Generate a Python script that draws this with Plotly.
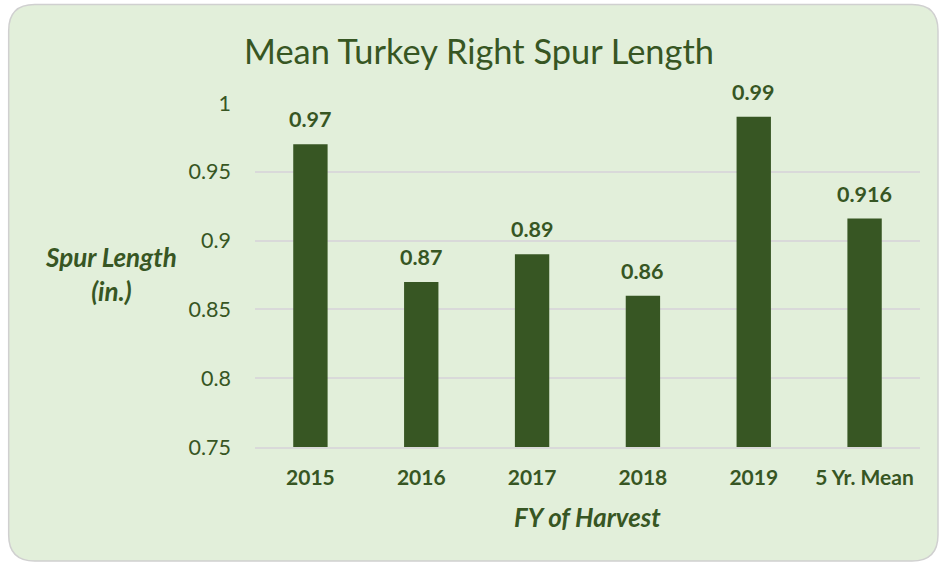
import plotly.graph_objects as go

categories = ["2015", "2016", "2017", "2018", "2019", "5 Yr. Mean"]
values = [0.97, 0.87, 0.89, 0.86, 0.99, 0.916]
y_ticks = [0.75, 0.8, 0.85, 0.9, 0.95, 1.0]
y_tick_labels = ["0.75", "0.8", "0.85", "0.9", "0.95", "1"]

W, H = 939, 563
L, R, T, B = 254.5, 920, 103.3, 447
GREEN = "#375623"
TXT = "#375623"
FONT = "Lato"

def px(x):
    return (x - L) / (R - L)

def py(y):
    return (B - y) / (B - T)

# rounded rectangle background in paper coords
x0, x1, y0, y1, r = 8, 938, 5, 561, 26
path = (
    f"M {px(x0 + r)} {py(y0)} L {px(x1 - r)} {py(y0)} "
    f"Q {px(x1)} {py(y0)} {px(x1)} {py(y0 + r)} "
    f"L {px(x1)} {py(y1 - r)} Q {px(x1)} {py(y1)} {px(x1 - r)} {py(y1)} "
    f"L {px(x0 + r)} {py(y1)} Q {px(x0)} {py(y1)} {px(x0)} {py(y1 - r)} "
    f"L {px(x0)} {py(y0 + r)} Q {px(x0)} {py(y0)} {px(x0 + r)} {py(y0)} Z"
)

fig = go.Figure()
fig.add_trace(go.Bar(
    x=categories, y=values,
    marker=dict(color=GREEN, line=dict(width=0)),
    hoverinfo="x+y",
))

annotations = []
for i, v in enumerate(values):
    annotations.append(dict(
        x=i, y=v, xref="x", yref="y", text=f"<b>{v}</b>", showarrow=False,
        yanchor="bottom", yshift=10, font=dict(family=FONT, size=21.5, color=TXT),
    ))
annotations.append(dict(
    x=px(110), y=py(274), xref="paper", yref="paper",
    text="<b><i>Spur Length<br>(in.)</i></b>", showarrow=False,
    xanchor="center", yanchor="middle", align="center",
    font=dict(family=FONT, size=26, color=TXT),
))
annotations.append(dict(
    x=px(587), y=py(517), xref="paper", yref="paper",
    text="<b><i>FY of Harvest</i></b>", showarrow=False,
    xanchor="center", yanchor="middle",
    font=dict(family=FONT, size=25.8, color=TXT),
))
annotations.append(dict(
    x=px(479), y=py(51), xref="paper", yref="paper",
    text="Mean Turkey Right Spur Length", showarrow=False,
    xanchor="center", yanchor="middle",
    font=dict(family=FONT, size=34.4, color=TXT),
))

fig.update_layout(
    width=W, height=H,
    margin=dict(l=L, r=W - R, t=T, b=H - B, pad=0),
    paper_bgcolor="white",
    plot_bgcolor="rgba(0,0,0,0)",
    bargap=0.69,
    showlegend=False,
    annotations=annotations,
    shapes=[dict(type="path", path=path, xref="paper", yref="paper",
                 fillcolor="#E2EFDA", line=dict(color="#D0D0D0", width=1.5),
                 layer="below")],
    font=dict(family=FONT, color=TXT),
)
fig.update_xaxes(
    type="category", range=[-0.5, 5.5], autorange=False,
    showgrid=False, showline=True, linecolor="#D9D9D9", linewidth=1.5,
    zeroline=False,
    ticks="", tickfont=dict(family=FONT, size=21, color=TXT, weight="bold"),
    ticklabelstandoff=11,
)
fig.update_yaxes(
    range=[0.75, 1.0], autorange=False, tickvals=y_ticks, ticktext=y_tick_labels,
    showgrid=True, gridcolor="#D9D9D9", gridwidth=1.5, zeroline=False,
    showline=False, ticks="", tickfont=dict(family=FONT, size=21.5, color=TXT),
    ticklabelstandoff=23,
)
fig.write_html("out.html", config={"displayModeBar": False},
               post_script="document.body.style.margin='0';")
